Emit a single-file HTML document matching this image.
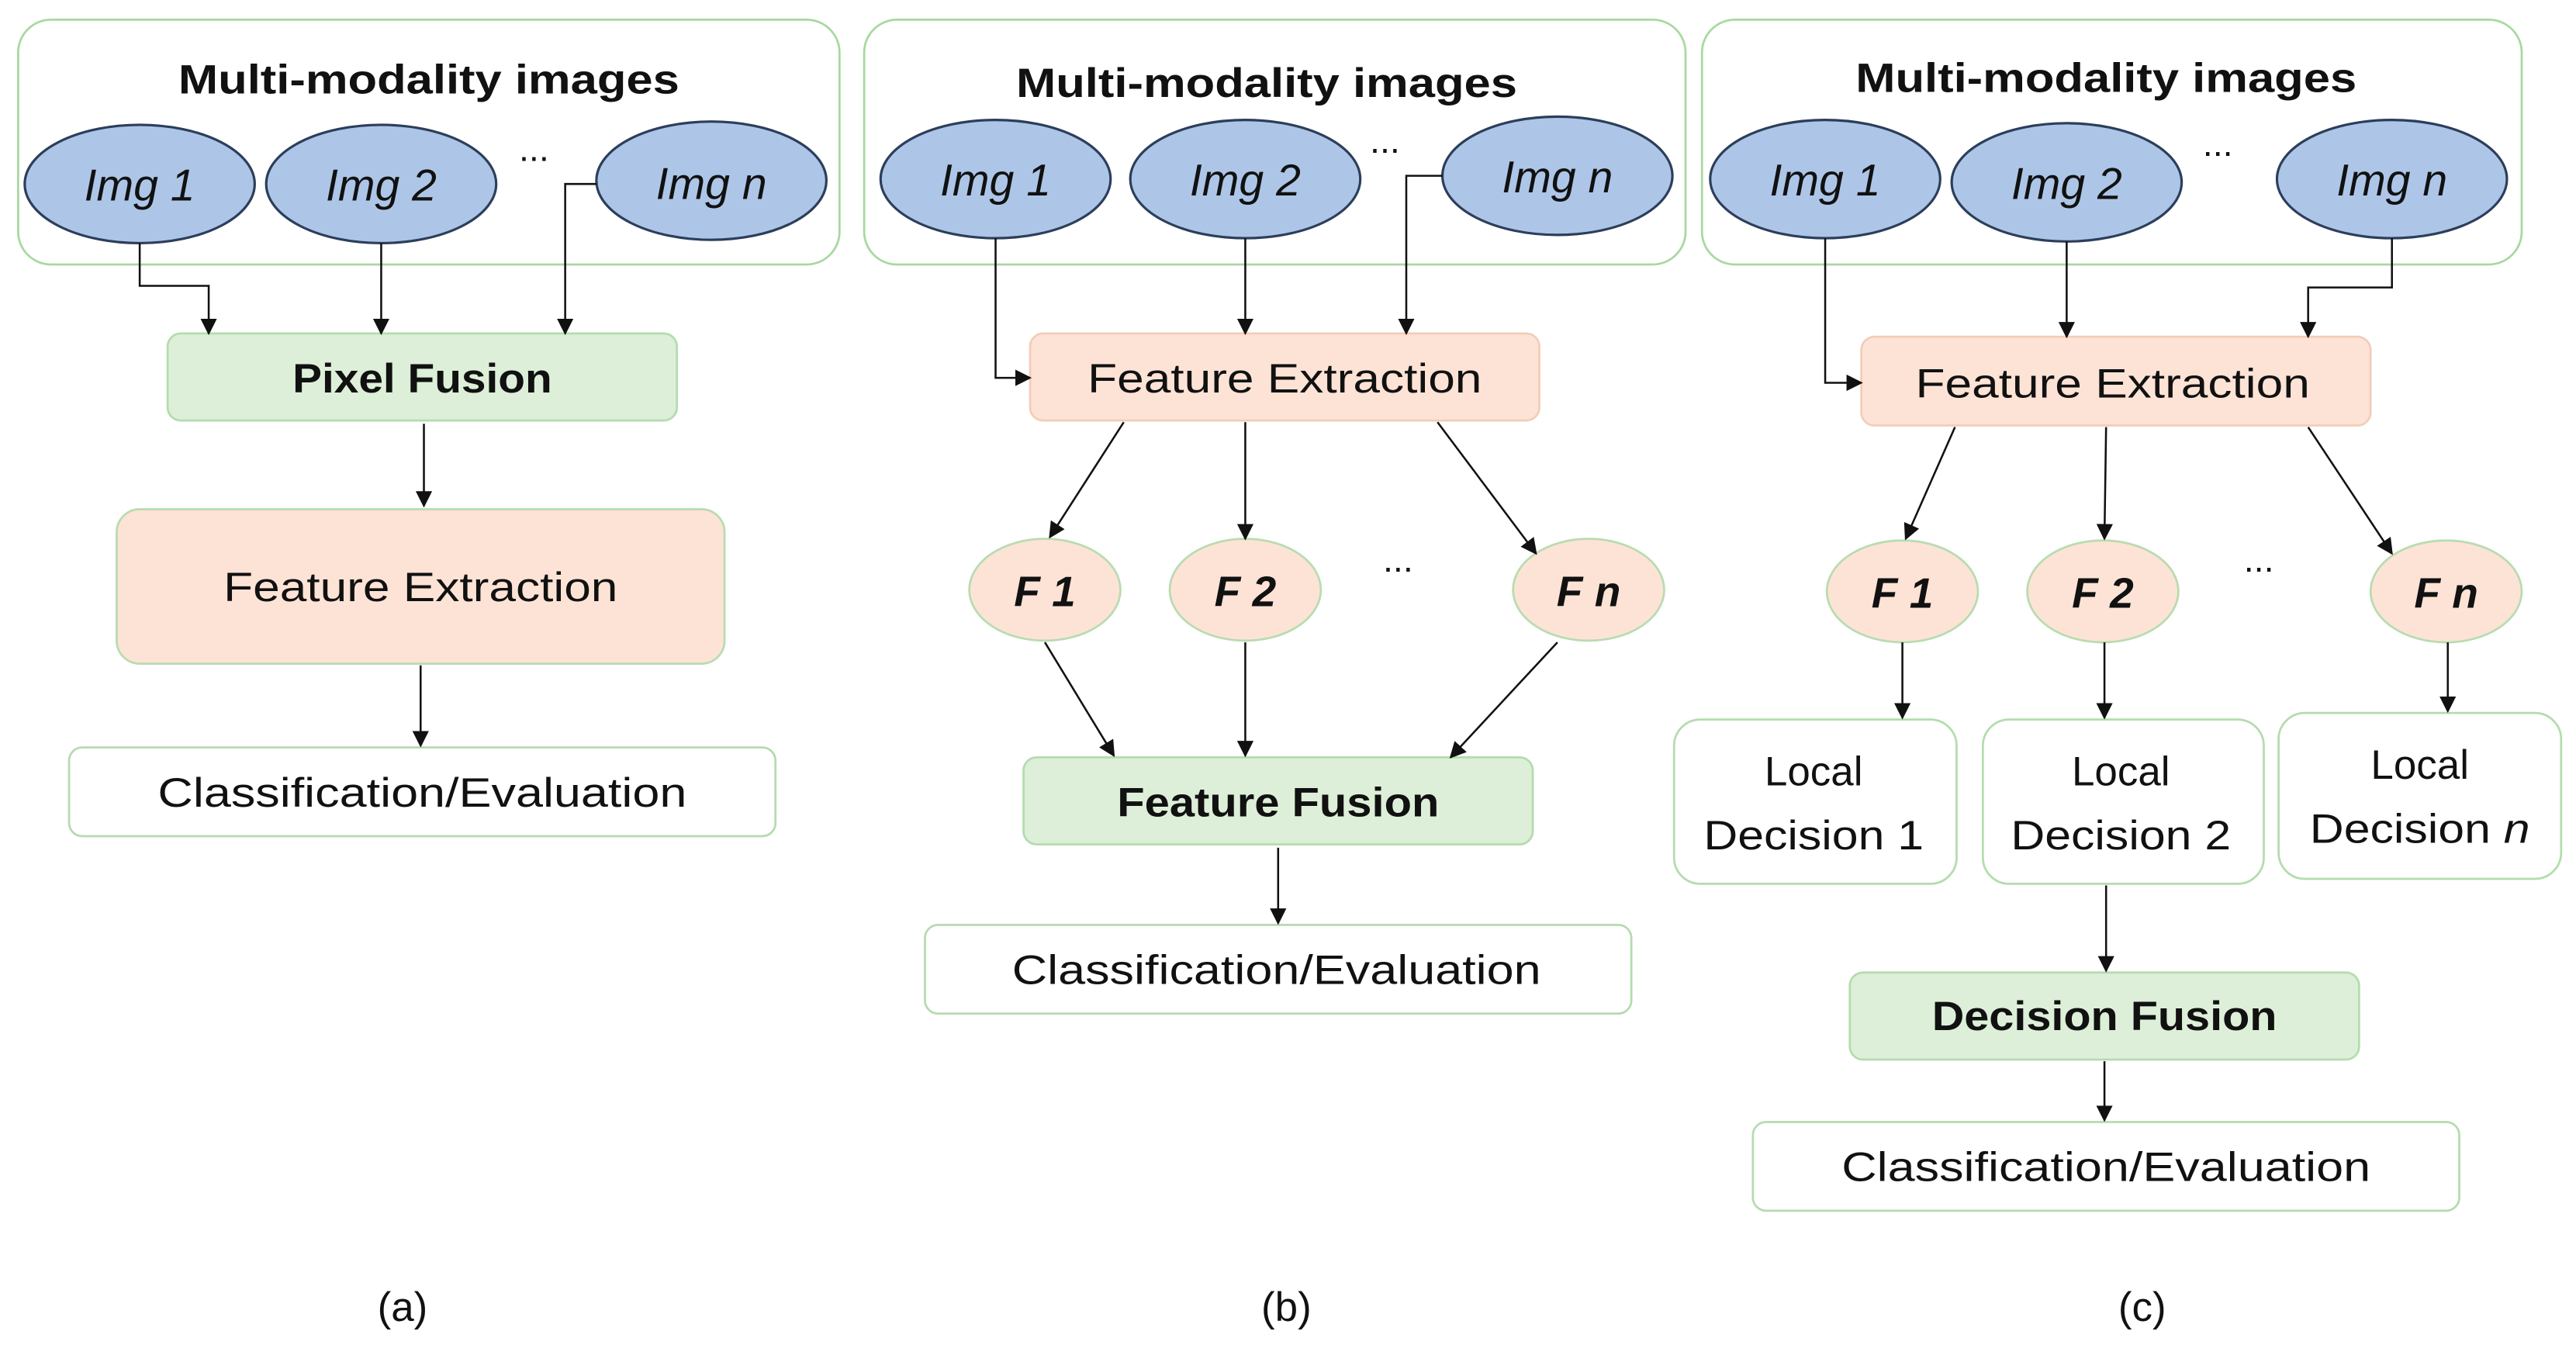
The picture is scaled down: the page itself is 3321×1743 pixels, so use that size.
<!DOCTYPE html>
<html><head><meta charset="utf-8"><style>
html,body{margin:0;padding:0;background:#fff;}
svg{display:block;}
text{font-family:"Liberation Sans",sans-serif;fill:#111;}
</style></head><body>
<svg width="3321" height="1743" viewBox="0 0 1568 823" xmlns="http://www.w3.org/2000/svg">
<defs>
<marker id="ar" markerWidth="10" markerHeight="10" refX="9" refY="5" orient="auto" markerUnits="userSpaceOnUse">
<path d="M0,0 L10,5 L0,10 z" fill="#111"/>
</marker>
</defs>
<g fill="none" stroke="#a8d8a0" stroke-width="1.3">
<rect x="11" y="12" width="500" height="149" rx="20"/>
<rect x="526" y="12" width="500" height="149" rx="20"/>
<rect x="1036" y="12" width="499" height="149" rx="20"/>
</g>
<g font-weight="bold" font-size="25" text-anchor="middle">
<text x="261" y="57" textLength="305" lengthAdjust="spacingAndGlyphs">Multi-modality images</text>
<text x="771" y="59" textLength="305" lengthAdjust="spacingAndGlyphs">Multi-modality images</text>
<text x="1282" y="56" textLength="305" lengthAdjust="spacingAndGlyphs">Multi-modality images</text>
</g>
<g fill="#adc6e8" stroke="#2c3e5a" stroke-width="1.5">
<ellipse cx="85" cy="112" rx="70" ry="36"/>
<ellipse cx="232" cy="112" rx="70" ry="36"/>
<ellipse cx="433" cy="110" rx="70" ry="36"/>
<ellipse cx="606" cy="109" rx="70" ry="36"/>
<ellipse cx="758" cy="109" rx="70" ry="36"/>
<ellipse cx="948" cy="107" rx="70" ry="36"/>
<ellipse cx="1111" cy="109" rx="70" ry="36"/>
<ellipse cx="1258" cy="111" rx="70" ry="36"/>
<ellipse cx="1456" cy="109" rx="70" ry="36"/>
</g>
<g font-style="italic" font-size="27" text-anchor="middle">
<text x="85" y="122">Img 1</text><text x="232" y="122">Img 2</text><text x="433" y="121">Img n</text>
<text x="606" y="119">Img 1</text><text x="758" y="119">Img 2</text><text x="948" y="117">Img n</text>
<text x="1111" y="119">Img 1</text><text x="1258" y="121">Img 2</text><text x="1456" y="119">Img n</text>
</g>
<g font-size="22" text-anchor="middle">
<text x="325" y="98">...</text><text x="843" y="93">...</text><text x="1350" y="95">...</text>
<text x="851" y="348">...</text><text x="1375" y="348">...</text>
</g>
<!-- boxes -->
<g stroke-width="1.3">
<rect x="102" y="203" width="310" height="53" rx="8" fill="#ddefd8" stroke="#b4dcae"/>
<rect x="71" y="310" width="370" height="94" rx="14" fill="#fde3d6" stroke="#b8dcb0"/>
<rect x="42" y="455" width="430" height="54" rx="8" fill="#fff" stroke="#b4dcae"/>
<rect x="627" y="203" width="310" height="53" rx="8" fill="#fde3d6" stroke="#f3cdb8"/>
<rect x="623" y="461" width="310" height="53" rx="8" fill="#ddefd8" stroke="#b4dcae"/>
<rect x="563" y="563" width="430" height="54" rx="8" fill="#fff" stroke="#b4dcae"/>
<rect x="1133" y="205" width="310" height="54" rx="8" fill="#fde3d6" stroke="#f3cdb8"/>
<rect x="1019" y="438" width="172" height="100" rx="16" fill="#fff" stroke="#b4dcae"/>
<rect x="1207" y="438" width="171" height="100" rx="16" fill="#fff" stroke="#b4dcae"/>
<rect x="1387" y="434" width="172" height="101" rx="16" fill="#fff" stroke="#b4dcae"/>
<rect x="1126" y="592" width="310" height="53" rx="8" fill="#ddefd8" stroke="#b4dcae"/>
<rect x="1067" y="683" width="430" height="54" rx="8" fill="#fff" stroke="#b4dcae"/>
</g>
<g fill="#fde3d6" stroke="#b8dcb0" stroke-width="1.3">
<ellipse cx="636" cy="359" rx="46" ry="31"/><ellipse cx="758" cy="359" rx="46" ry="31"/><ellipse cx="967" cy="359" rx="46" ry="31"/>
<ellipse cx="1158" cy="360" rx="46" ry="31"/><ellipse cx="1280" cy="360" rx="46" ry="31"/><ellipse cx="1489" cy="360" rx="46" ry="31"/>
</g>
<g font-size="25" text-anchor="middle">
<text x="257" y="239" font-weight="bold" textLength="158" lengthAdjust="spacingAndGlyphs">Pixel Fusion</text>
<text x="256" y="366" textLength="240" lengthAdjust="spacingAndGlyphs">Feature Extraction</text>
<text x="257" y="491" textLength="322" lengthAdjust="spacingAndGlyphs">Classification/Evaluation</text>
<text x="782" y="239" textLength="240" lengthAdjust="spacingAndGlyphs">Feature Extraction</text>
<text x="778" y="497" font-weight="bold" textLength="196" lengthAdjust="spacingAndGlyphs">Feature Fusion</text>
<text x="777" y="599" textLength="322" lengthAdjust="spacingAndGlyphs">Classification/Evaluation</text>
<text x="1286" y="242" textLength="240" lengthAdjust="spacingAndGlyphs">Feature Extraction</text>
<text x="1104" y="478">Local</text><text x="1104" y="517" textLength="134" lengthAdjust="spacingAndGlyphs">Decision 1</text>
<text x="1291" y="478">Local</text><text x="1291" y="517" textLength="134" lengthAdjust="spacingAndGlyphs">Decision 2</text>
<text x="1473" y="474">Local</text><text x="1473" y="513" textLength="134" lengthAdjust="spacingAndGlyphs">Decision <tspan font-style="italic">n</tspan></text>
<text x="1281" y="627" font-weight="bold" textLength="210" lengthAdjust="spacingAndGlyphs">Decision Fusion</text>
<text x="1282" y="719" textLength="322" lengthAdjust="spacingAndGlyphs">Classification/Evaluation</text>
<text x="245" y="804">(a)</text><text x="783" y="804">(b)</text><text x="1304" y="804">(c)</text>
</g>
<g font-size="26" font-weight="bold" font-style="italic" text-anchor="middle">
<text x="636" y="369">F 1</text><text x="758" y="369">F 2</text><text x="967" y="369">F n</text>
<text x="1158" y="370">F 1</text><text x="1280" y="370">F 2</text><text x="1489" y="370">F n</text>
</g>
<!-- connectors -->
<g fill="none" stroke="#111" stroke-width="1.2" marker-end="url(#ar)">
<polyline points="85,148 85,174 127,174 127,203"/>
<line x1="232" y1="148" x2="232" y2="203"/>
<polyline points="363,112 344,112 344,203"/>
<line x1="258" y1="258" x2="258" y2="308"/>
<line x1="256" y1="405" x2="256" y2="454"/>
<polyline points="606,145 606,230 627,230"/>
<line x1="758" y1="145" x2="758" y2="203"/>
<polyline points="878,107 856,107 856,203"/>
<line x1="684" y1="257" x2="639" y2="327"/>
<line x1="758" y1="257" x2="758" y2="328"/>
<line x1="875" y1="257" x2="935" y2="337"/>
<line x1="636" y1="391" x2="678" y2="460"/>
<line x1="758" y1="391" x2="758" y2="460"/>
<line x1="948" y1="391" x2="883" y2="461"/>
<line x1="778" y1="516" x2="778" y2="562"/>
<polyline points="1111,145 1111,233 1133,233"/>
<line x1="1258" y1="147" x2="1258" y2="205"/>
<polyline points="1456,145 1456,175 1405,175 1405,205"/>
<line x1="1190" y1="260" x2="1160" y2="328"/>
<line x1="1282" y1="260" x2="1281" y2="328"/>
<line x1="1405" y1="260" x2="1456" y2="337"/>
<line x1="1158" y1="391" x2="1158" y2="437"/>
<line x1="1281" y1="391" x2="1281" y2="437"/>
<line x1="1490" y1="391" x2="1490" y2="433"/>
<line x1="1282" y1="539" x2="1282" y2="591"/>
<line x1="1281" y1="646" x2="1281" y2="682"/>
</g>
</svg>
</body></html>
